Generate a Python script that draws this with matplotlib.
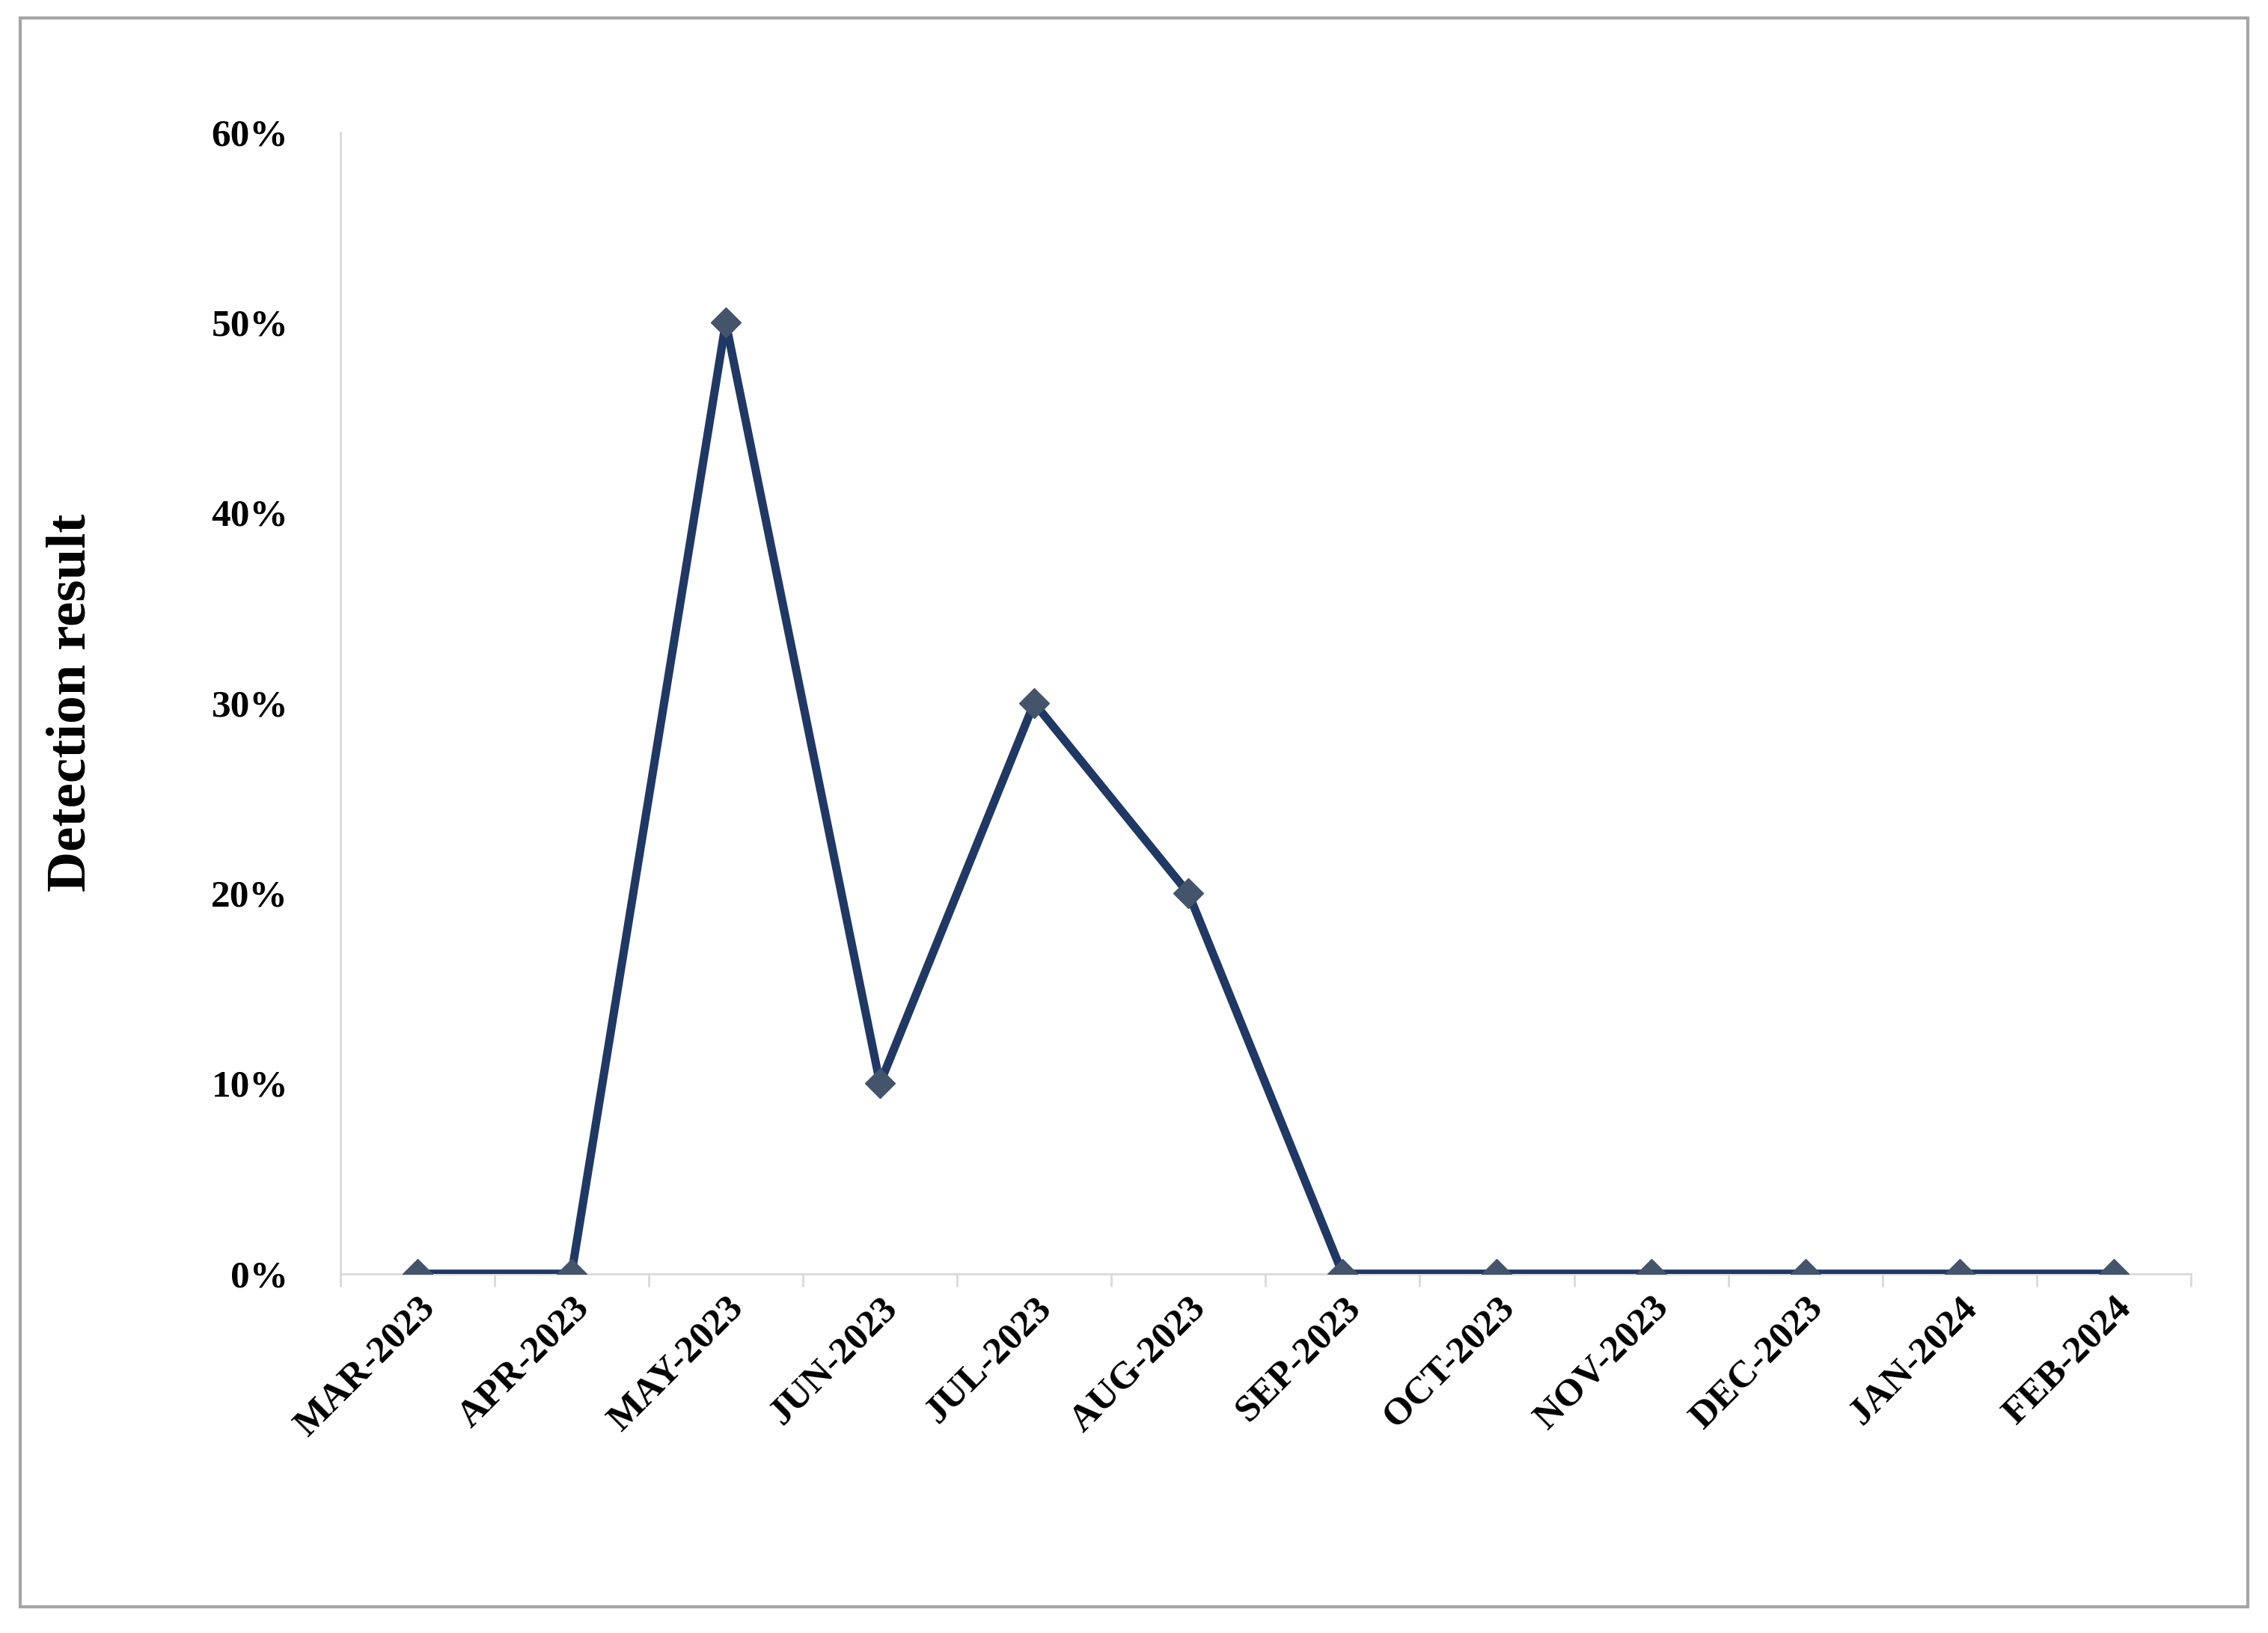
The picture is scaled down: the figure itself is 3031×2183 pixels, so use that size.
import numpy as np
from matplotlib import pyplot as plt
from matplotlib.patches import Rectangle

# data
months = ["MAR-2023", "APR-2023", "MAY-2023", "JUN-2023", "JUL-2023", "AUG-2023",
          "SEP-2023", "OCT-2023", "NOV-2023", "DEC-2023", "JAN-2024", "FEB-2024"]
detection = [0, 0, 50, 10, 30, 20, 0, 0, 0, 0, 0, 0]

plt.rcParams["font.family"] = ["Liberation Serif", "DejaVu Serif"]
plt.rcParams["font.weight"] = "bold"

fig = plt.figure(figsize=(30.31, 21.83), dpi=100)
ax = fig.add_axes([0.150, 0.220, 0.816, 0.699])

x = np.arange(len(months))
ax.plot(x, detection, color="#203864", linewidth=8, marker="D",
        markersize=20, markerfacecolor="#44546A", markeredgecolor="#44546A", zorder=3)

ax.set_xlim(-0.5, len(months) - 0.5)
ax.set_ylim(0, 60)
ax.set_yticks(range(0, 61, 10))
ax.set_yticklabels([f"{v}%" for v in range(0, 61, 10)], fontsize=37, fontweight="bold")
ax.tick_params(axis="y", length=0, pad=50)

ax.set_xticks(x)
ax.set_xticklabels(months, rotation=45, ha="right", rotation_mode="anchor",
                   fontsize=37, fontweight="bold")
ax.tick_params(axis="x", length=0, pad=16)
ax.set_xticks(np.arange(-0.5, len(months)), minor=True)
ax.tick_params(axis="x", which="minor", length=12, width=2, color="#D9D9D9")

for s in ["top", "right"]:
    ax.spines[s].set_visible(False)
for s in ["left", "bottom"]:
    ax.spines[s].set_color("#D9D9D9")
    ax.spines[s].set_linewidth(2)

ax.set_ylabel("Detection result", fontsize=54, fontweight="bold", labelpad=110)

# outer border like the original
fig.patches.append(Rectangle((0.009, 0.016), 0.982, 0.973, transform=fig.transFigure,
                             fill=False, edgecolor="#A6A6A6", linewidth=3))

plt.savefig("out.png", dpi=100)
